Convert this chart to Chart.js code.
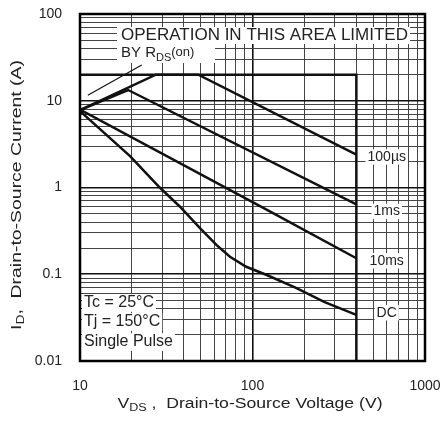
<!DOCTYPE html>
<html>
<head>
<meta charset="utf-8">
<script src="https://cdn.jsdelivr.net/npm/chart.js@4.4.0/dist/chart.umd.min.js"></script>
<style>
  html, body { margin: 0; padding: 0; background: #fff; }
  #wrap { width: 443px; height: 427px; }
</style>
</head>
<body>
<div id="wrap"><canvas id="soa" width="443" height="427"></canvas></div>
<script>
// Safe operating area
// VDS (V) and ID (A) for each pulse width
const us100V = [10, 27.5, 48.5, 400];
const us100I = [7.8, 20, 20, 2.4];

const ms1V = [10, 19, 400];
const ms1I = [7.8, 13.3, 0.64];

const ms10V = [10, 126, 400];
const ms10I = [7.9, 0.53, 0.153];

const dcV = [10, 19.5, 29, 38, 49.6, 62, 74, 92, 121, 180, 260, 400];
const dcI = [7.6, 2.3, 1.0, 0.6, 0.34, 0.217, 0.159, 0.122, 0.098, 0.069, 0.048, 0.034];

// 20 A / 400 V boundary
const limitV = [10, 400, 400];
const limitI = [20, 20, 0.01];

// leader from the "BY RDS(on)" note to the limit line
const leaderV = [11.1, 22.8];
const leaderI = [11.6, 25.8];

// axis ticks
const xMajor = [10, 100, 1000];
const xTickLabels = ['10', '100', '1000'];
const yMajor = [0.01, 0.1, 1, 10, 100];
const yTickLabels = ['0.01', '0.1', '1', '10', '100'];
const minorSteps = [2, 3, 4, 5, 6, 7, 8, 9];

const FONT = '"Liberation Sans", Arial, sans-serif';
const INK = '#222';

function toPoints(xs, ys) {
    return xs.map((x, i) => ({ x: x, y: ys[i] }));
}

function logTicks(majors) {
    const out = [];
    majors.forEach((m, i) => {
        out.push(m);
        if (i < majors.length - 1) {
            minorSteps.forEach(k => out.push(Number((m * k).toPrecision(6))));
        }
    });
    return out;
}

function isMajor(v, majors) {
    return majors.findIndex(m => Math.abs(Math.log10(v) - Math.log10(m)) < 1e-6);
}

// text runs (for subscripts)
function runsWidth(ctx, runs) {
    let w = 0;
    runs.forEach(r => {
        ctx.font = r[1] + 'px ' + FONT;
        w += ctx.measureText(r[0]).width;
    });
    return w;
}

function drawRuns(ctx, runs, x, y) {
    let cx = x;
    runs.forEach(r => {
        ctx.font = r[1] + 'px ' + FONT;
        ctx.fillText(r[0], cx, y + r[2]);
        cx += ctx.measureText(r[0]).width;
    });
}

// runs stretched along their length to a given span
function drawStretched(ctx, runs, cx, cy, span, angle) {
    const w = runsWidth(ctx, runs);
    ctx.save();
    ctx.translate(cx, cy);
    ctx.rotate(angle);
    ctx.scale(span / w, 1);
    drawRuns(ctx, runs, -w / 2, 0);
    ctx.restore();
}

function labelBox(ctx, text, size, x, y, align) {
    ctx.font = size + 'px ' + FONT;
    const w = ctx.measureText(text).width;
    const left = align === 'center' ? x - w / 2 : x;
    ctx.fillStyle = '#fff';
    ctx.fillRect(left - 2, y - size * 0.55, w + 4, size * 1.1);
    ctx.fillStyle = INK;
    ctx.fillText(text, left, y);
}

const notesPlugin = {
    id: 'notes',
    afterDatasetsDraw(chart) {
        const ctx = chart.ctx;
        const a = chart.chartArea;
        const xs = chart.scales.x;
        const ys = chart.scales.y;

        // frame
        ctx.save();
        ctx.strokeStyle = '#000';
        ctx.lineWidth = 2.5;
        ctx.strokeRect(a.left, a.top, a.right - a.left, a.bottom - a.top);

        ctx.textBaseline = 'middle';
        ctx.textAlign = 'left';

        // "operation in this area limited" note
        ctx.fillStyle = '#fff';
        ctx.fillRect(117, 27, 293, 17);
        ctx.fillRect(117, 44, 98, 19);
        ctx.fillStyle = INK;
        ctx.font = '16px ' + FONT;
        const opText = 'OPERATION IN THIS AREA LIMITED';
        const opW = ctx.measureText(opText).width;
        ctx.save();
        ctx.translate(121, 36);
        ctx.scale(287 / opW, 1);
        ctx.fillText(opText, 0, 0);
        ctx.restore();
        drawRuns(ctx, [['BY R', 15, 0], ['DS', 11, 5], ['(on)', 13, -1]], 121, 53);

        // test conditions
        labelBox(ctx, 'Tc = 25°C', 16, 84, 303, 'left');
        labelBox(ctx, 'Tj = 150°C', 16, 84, 322, 'left');
        labelBox(ctx, 'Single Pulse', 16, 84, 342, 'left');

        // curve names, at the right of the 400 V boundary
        const lx = xs.getPixelForValue(600);
        labelBox(ctx, '100µs', 14, lx, ys.getPixelForValue(2.25), 'center');
        labelBox(ctx, '1ms', 14, lx, ys.getPixelForValue(0.53), 'center');
        labelBox(ctx, '10ms', 14, lx, ys.getPixelForValue(0.143), 'center');
        labelBox(ctx, 'DC', 14, lx, ys.getPixelForValue(0.036), 'center');

        // axis titles
        ctx.fillStyle = INK;
        drawStretched(ctx, [['V', 14, 0], ['DS', 10, 4], [' ,  Drain-to-Source Voltage (V)', 14, 0]],
            250, 404, 265, 0);
        drawStretched(ctx, [['I', 14, 0], ['D', 10, 4], [',  Drain-to-Source Current (A)', 14, 0]],
            17, 195, 270, -Math.PI / 2);
        ctx.restore();
    }
};

function lineSet(xs, ys, width) {
    return {
        data: toPoints(xs, ys),
        showLine: true,
        borderColor: '#111',
        borderWidth: width,
        pointRadius: 0,
        tension: 0,
        fill: false
    };
}

function axis(min, max, majors, labels, isX) {
    const all = logTicks(majors);
    return {
        type: 'logarithmic',
        min: min,
        max: max,
        afterBuildTicks(scale) {
            scale.ticks = all.map(v => ({ value: v }));
        },
        afterFit(scale) {
            if (isX) scale.height = 66;
            else scale.width = 80;
            // keep the plot box where the datasheet has it
            scale.paddingLeft = 0;
            scale.paddingRight = 0;
            scale.paddingTop = 0;
            scale.paddingBottom = 0;
        },
        border: { display: false },
        grid: {
            drawTicks: false,
            color: c => isMajor(c.tick.value, majors) >= 0 ? '#111' : '#444',
            lineWidth: c => isMajor(c.tick.value, majors) >= 0 ? 1.6 : 1
        },
        ticks: {
            autoSkip: false,
            maxRotation: 0,
            padding: isX ? 17 : 18,
            color: INK,
            font: { family: FONT, size: 14 },
            callback: v => {
                const i = isMajor(v, majors);
                return i >= 0 ? labels[i] : '';
            }
        }
    };
}

new Chart(document.getElementById('soa').getContext('2d'), {
    type: 'scatter',
    data: {
        datasets: [
            lineSet(limitV, limitI, 2.5),
            lineSet(us100V, us100I, 2.5),
            lineSet(ms1V, ms1I, 2.5),
            lineSet(ms10V, ms10I, 2.5),
            lineSet(dcV, dcI, 2.5),
            lineSet(leaderV, leaderI, 1.2)
        ]
    },
    options: {
        responsive: false,
        animation: false,
        devicePixelRatio: 1,
        layout: { padding: { top: 14, right: 18, left: 0, bottom: 0 } },
        plugins: {
            legend: { display: false },
            tooltip: { enabled: false }
        },
        scales: {
            x: axis(10, 1000, xMajor, xTickLabels, true),
            y: axis(0.01, 100, yMajor, yTickLabels, false)
        }
    },
    plugins: [notesPlugin]
});
</script>
</body>
</html>
